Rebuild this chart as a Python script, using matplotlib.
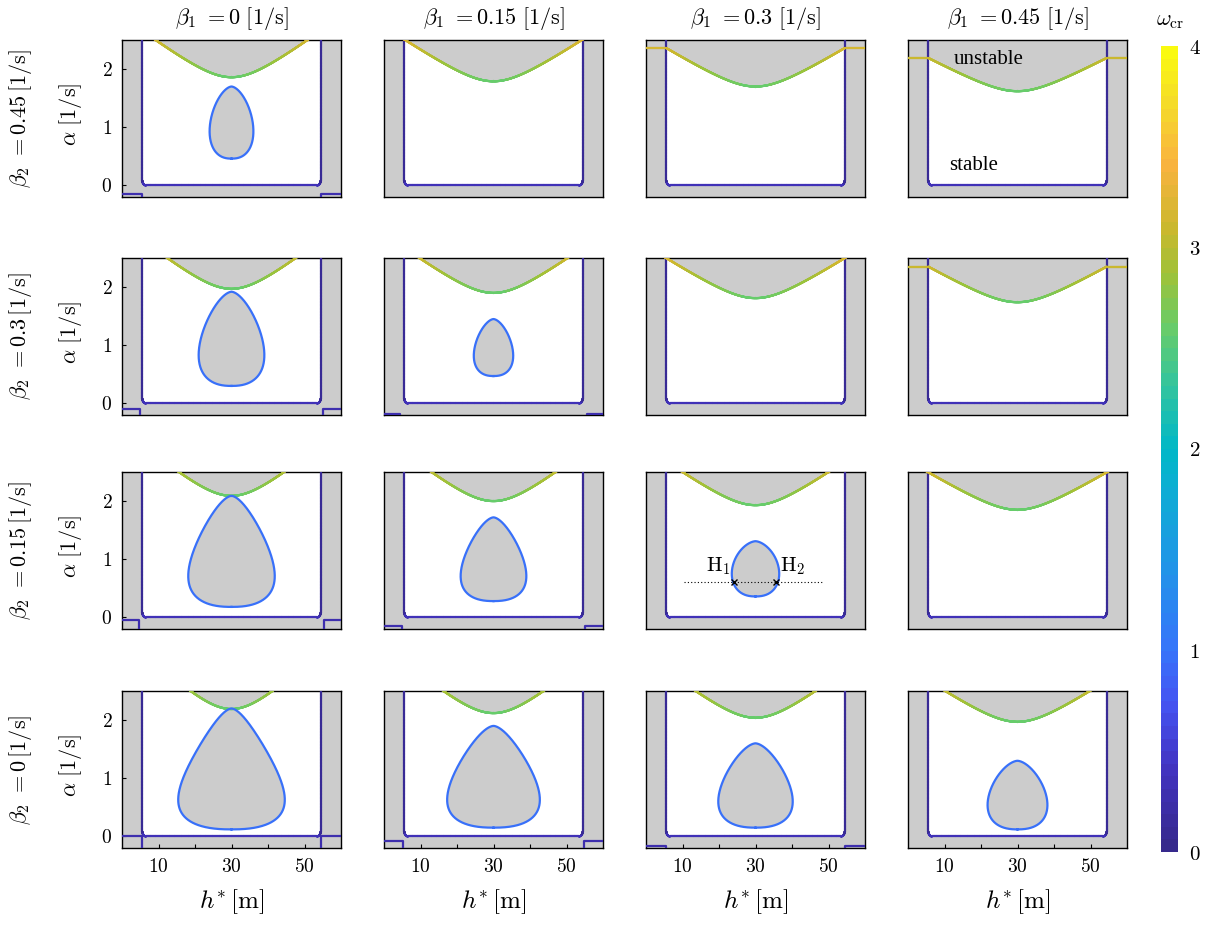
import numpy as np
import matplotlib
matplotlib.use("Agg")
import matplotlib.pyplot as plt
from matplotlib.collections import LineCollection
from matplotlib.colors import LinearSegmentedColormap, Normalize
from matplotlib.cm import ScalarMappable

plt.rcParams['mathtext.fontset'] = 'cm'
plt.rcParams['font.family'] = ['DejaVu Serif']

nan = np.nan
# ---------------- data (rows: beta2 = 0.45, 0.3, 0.15, 0 ; cols: beta1 = 0 .. 0.45)
beta1_labels = ["0", "0.15", "0.3", "0.45"]
beta2_labels = ["0.45", "0.3", "0.15", "0"]

# upper stability boundary: minimum alpha at h*=30, half-distance where it reaches top/cap, cap level
top_min = [[1.86, 1.79, 1.70, 1.62],
           [1.97, 1.90, 1.81, 1.74],
           [2.09, 2.00, 1.93, 1.85],
           [2.19, 2.12, 2.04, 1.97]]
top_reach = [[20.8, 24.2, 24.4, 24.4],
             [17.6, 20.3, 24.5, 24.4],
             [14.4, 17.0, 20.0, 24.6],
             [11.2, 13.7, 16.4, 19.8]]
top_cap = [[nan, nan, 2.36, 2.19],
           [nan, nan, nan, 2.35],
           [nan, nan, nan, nan],
           [nan, nan, nan, nan]]

# inner unstable island (teardrop)
tear_bottom = [[0.46, nan, nan, nan],
               [0.30, 0.47, nan, nan],
               [0.18, 0.28, 0.36, nan],
               [0.12, 0.15, 0.15, 0.12]]
tear_top = [[1.70, nan, nan, nan],
            [1.92, 1.45, nan, nan],
            [2.09, 1.72, 1.31, nan],
            [2.20, 1.90, 1.60, 1.30]]
tear_halfwidth = [[6.0, nan, nan, nan],
                  [9.0, 5.4, nan, nan],
                  [11.85, 9.0, 6.5, nan],
                  [14.6, 12.7, 10.2, 8.2]]
tear_peak = [[0.93, nan, nan, nan],
             [0.83, 0.82, nan, nan],
             [0.71, 0.71, 0.75, nan],
             [0.63, 0.63, 0.60, 0.54]]

# small outer boundary corners near the bottom
corner_level = [[-0.15, nan, nan, nan],
                [-0.105, -0.18, nan, nan],
                [-0.05, -0.14, nan, nan],
                [0.0, -0.08, -0.17, nan]]
corner_h = [[5.4, nan, nan, nan],
            [4.9, 4.5, nan, nan],
            [4.7, 4.9, nan, nan],
            [5.6, 5.2, 5.4, nan]]

bound_left, bound_right, bound_bottom = 5.6, 54.4, 0.0
h_center = 30.0

# Hopf points example (row beta2=0.15, col beta1=0.3)
hopf_h = [24.2, 35.6]
hopf_alpha = 0.6
hopf_line = [10.4, 48.2]

# ---------------- colormap (parula-like)
anchors = [(0.00, (0.21, 0.16, 0.55)), (0.10, (0.26, 0.20, 0.76)), (0.18, (0.27, 0.33, 0.95)),
           (0.25, (0.21, 0.46, 0.98)), (0.35, (0.13, 0.58, 0.91)), (0.45, (0.05, 0.68, 0.83)),
           (0.50, (0.00, 0.72, 0.78)), (0.58, (0.20, 0.77, 0.62)), (0.65, (0.40, 0.80, 0.42)),
           (0.72, (0.62, 0.76, 0.22)), (0.78, (0.80, 0.72, 0.18)), (0.86, (0.98, 0.70, 0.25)),
           (0.93, (0.96, 0.85, 0.17)), (1.00, (0.98, 0.98, 0.06))]
parula = LinearSegmentedColormap.from_list("parula", anchors, N=64)
norm = Normalize(0, 4)
GRAY = '#cccccc'

W, H = 1215, 926
fig = plt.figure(figsize=(W / 100, H / 100), dpi=100)

col_left = [122, 384, 646, 908]
row_top = [40, 258, 472, 691]
pw, ph = 219, 157


def colored_line(ax, x, y, w, lw=1.6, z=5):
    pts = np.column_stack([x, y]).reshape(-1, 1, 2)
    segs = np.concatenate([pts[:-1], pts[1:]], axis=1)
    lc = LineCollection(segs, cmap=parula, norm=norm, linewidths=lw, capstyle='round', zorder=z)
    lc.set_array(0.5 * (np.asarray(w)[:-1] + np.asarray(w)[1:]))
    ax.add_collection(lc)


def top_curve(h, m, reach, end):
    wr = 9.0
    s = (end - m) / (np.sqrt(wr ** 2 + reach ** 2) - wr)
    return m + s * (np.sqrt(wr ** 2 + (h - h_center) ** 2) - wr)


r_h, r_a = 1.0, 0.08


def lower_bound(h):
    d = np.minimum(h - bound_left, bound_right - h)
    arc = bound_bottom + r_a * (1 - np.sqrt(np.clip(1 - ((r_h - d) / r_h) ** 2, 0, 1)))
    return np.where(d < r_h, arc, bound_bottom)


qb, qt = 0.42, 0.6

for r in range(4):
    for c in range(4):
        ax = fig.add_axes([col_left[c] / W, 1 - (row_top[r] + ph) / H, pw / W, ph / H])
        ax.set_facecolor(GRAY)
        ax.set_xlim(0, 60)
        ax.set_ylim(-0.2, 2.5)
        for sp in ax.spines.values():
            sp.set_linewidth(1.0)
            sp.set_color('black')

        m = top_min[r][c]
        cap = top_cap[r][c]
        end = 2.5 if np.isnan(cap) else cap

        # stable region
        h = np.linspace(bound_left, bound_right, 1200)
        up = np.minimum(top_curve(h, m, top_reach[r][c], end), 2.7)
        if not np.isnan(cap):
            up = np.minimum(up, cap)
        ax.fill_between(h, lower_bound(h), up, color='white', lw=0, zorder=1)

        # upper boundary curve
        hh = np.linspace(0, 60, 1200)
        a = top_curve(hh, m, top_reach[r][c], end)
        if not np.isnan(cap):
            a = np.minimum(a, cap)
        keep = a < 2.75
        colored_line(ax, hh[keep], a[keep], 2.6 + 0.85 * (a[keep] - m), lw=1.6)

        # teardrop
        if not np.isnan(tear_bottom[r][c]):
            b, t = tear_bottom[r][c], tear_top[r][c]
            umax = (tear_peak[r][c] - b) / (t - b)
            k = qb / umax - qt / (1 - umax)
            theta = np.linspace(0, np.pi, 400)
            u = (1 - np.cos(theta)) / 2
            g = u ** qb * (1 - u) ** qt * np.exp(-k * u)
            gm = umax ** qb * (1 - umax) ** qt * np.exp(-k * umax)
            hw = tear_halfwidth[r][c] * g / gm
            al = b + (t - b) * u
            xs = np.concatenate([h_center + hw, (h_center - hw)[::-1]])
            ys = np.concatenate([al, al[::-1]])
            ax.fill(xs, ys, color=GRAY, lw=0, zorder=2)
            ax.plot(xs, ys, color=parula(norm(0.95)), lw=1.6, zorder=6, solid_joinstyle='round')

        # outer boundary (vertical lines + bottom)
        th = np.linspace(0, np.pi / 2, 40)
        lx_v = np.full(50, bound_left)
        ly_v = np.linspace(2.7, bound_bottom + r_a, 50)
        lx_a = bound_left + r_h - r_h * np.cos(th)
        ly_a = bound_bottom + r_a - r_a * np.sin(th)
        bx = np.linspace(bound_left + r_h, bound_right - r_h, 100)
        by = np.full(100, bound_bottom)
        rx_a = bound_right - r_h + r_h * np.sin(th)
        ry_a = bound_bottom + r_a - r_a * np.cos(th)
        rx_v = np.full(50, bound_right)
        ry_v = np.linspace(bound_bottom + r_a, 2.7, 50)
        X = np.concatenate([lx_v, lx_a, bx, rx_a, rx_v])
        Y = np.concatenate([ly_v, ly_a, by, ry_a, ry_v])
        Wv = np.where(Y > 0.04, 0.12, 0.32)
        colored_line(ax, X, Y, Wv, lw=1.6, z=4)

        # bottom corner pieces
        cl = corner_level[r][c]
        if not np.isnan(cl):
            ch = corner_h[r][c]
            col = parula(norm(0.3))
            ax.plot([0, ch, ch], [cl, cl, -0.3], color=col, lw=1.6, zorder=4, clip_on=True)
            ax.plot([60, 60 - ch, 60 - ch], [cl, cl, -0.3], color=col, lw=1.6, zorder=4, clip_on=True)

        # ticks
        ax.tick_params(direction='in', length=3, width=0.8, top=False, right=False,
                       labelsize=14, pad=7)
        if r == 3:
            ax.set_xticks([10, 20, 30, 40, 50])
            ax.set_xticklabels(['$10$', '', '$30$', '', '$50$'])
            ax.set_xlabel(r'$h^{*}\,[\mathrm{m}]$', fontsize=18, labelpad=8)
        else:
            ax.set_xticks([])
        if c == 0:
            ax.set_yticks([0, 1, 2])
            ax.set_yticklabels(['$0$', '$1$', '$2$'])
        else:
            ax.set_yticks([])

        if r == 2 and c == 2:
            ax.plot(hopf_line, [hopf_alpha, hopf_alpha], color='black', ls=(0, (1, 2)), lw=0.8, zorder=7)
            ax.plot(hopf_h, [hopf_alpha, hopf_alpha], ls='none', marker='x', color='black',
                    ms=5, mew=1.0, zorder=8)
            ax.text(hopf_h[0] - 1.0, hopf_alpha + 0.1, r'$\mathrm{H}_1$', fontsize=15,
                    ha='right', va='bottom', zorder=9)
            ax.text(hopf_h[1] + 1.0, hopf_alpha + 0.1, r'$\mathrm{H}_2$', fontsize=15,
                    ha='left', va='bottom', zorder=9)
        if r == 0 and c == 3:
            ax.text(22.0, 2.17, 'unstable', family='Liberation Serif', fontsize=15,
                    ha='center', va='center', zorder=9)
            ax.text(18.0, 0.35, 'stable', family='Liberation Serif', fontsize=15,
                    ha='center', va='center', zorder=9)

# column titles
for c in range(4):
    fig.text((col_left[c] + pw / 2) / W, 1 - 19 / H,
             r'$\beta_1\ {=}%s\ [1/\mathrm{s}]$' % beta1_labels[c],
             ha='center', va='center', fontsize=16)
# row labels
for r in range(4):
    yc = 1 - (row_top[r] + ph / 2) / H
    fig.text(20 / W, yc, r'$\beta_2\ {=}%s\,[1/\mathrm{s}]$' % beta2_labels[r],
             rotation=90, ha='center', va='center', fontsize=16)
    fig.text(70 / W, yc + 4 / H, r'$\alpha\ [1/\mathrm{s}]$',
             rotation=90, ha='center', va='center', fontsize=16)

# colorbar
cax = fig.add_axes([1161 / W, 1 - 852 / H, 17 / W, 806 / H])
cb = fig.colorbar(ScalarMappable(norm=norm, cmap=parula), cax=cax)
cb.outline.set_visible(False)
cb.set_ticks([0, 1, 2, 3, 4])
cb.set_ticklabels(['$0$', '$1$', '$2$', '$3$', '$4$'])
cb.ax.tick_params(length=0, labelsize=15, pad=8)
fig.text(1170 / W, 1 - 20 / H, r'$\omega_{\mathrm{cr}}$', ha='center', va='center', fontsize=16)

fig.savefig('out.png', dpi=100)
